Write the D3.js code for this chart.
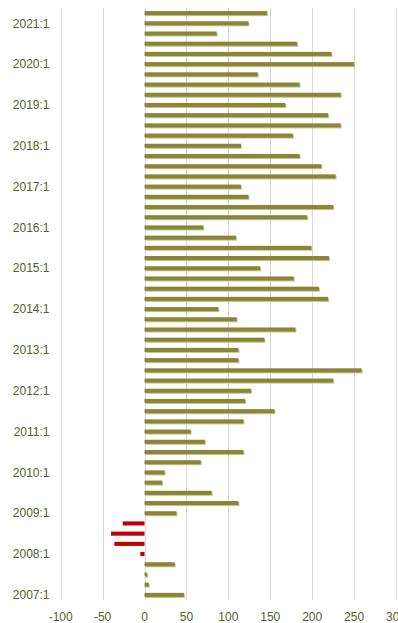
<!DOCTYPE html>
<html>
<head>
<meta charset="utf-8">
<script src="https://cdn.jsdelivr.net/npm/d3@7"></script>
<style>
  html, body { margin: 0; padding: 0; background: #fff; }
  svg { display: block; }
</style>
</head>
<body>
<svg id="chart" width="398" height="623"></svg>
<script>
// Quarters, oldest first
const quarters = [
  "2007:1","2007:2","2007:3","2007:4",
  "2008:1","2008:2","2008:3","2008:4",
  "2009:1","2009:2","2009:3","2009:4",
  "2010:1","2010:2","2010:3","2010:4",
  "2011:1","2011:2","2011:3","2011:4",
  "2012:1","2012:2","2012:3","2012:4",
  "2013:1","2013:2","2013:3","2013:4",
  "2014:1","2014:2","2014:3","2014:4",
  "2015:1","2015:2","2015:3","2015:4",
  "2016:1","2016:2","2016:3","2016:4",
  "2017:1","2017:2","2017:3","2017:4",
  "2018:1","2018:2","2018:3","2018:4",
  "2019:1","2019:2","2019:3","2019:4",
  "2020:1","2020:2","2020:3","2020:4",
  "2021:1","2021:2"
];
const values = [
  47, 5, 3, 36,
  -5, -36, -40, -26,
  38, 112, 80, 21,
  24, 67, 118, 72,
  55, 118, 155, 120,
  127, 225, 259, 112,
  112, 143, 180, 110,
  88, 219, 208, 178,
  138, 220, 199, 109,
  70, 194, 225, 124,
  115, 228, 211, 185,
  115, 177, 234, 219,
  168, 234, 185, 135,
  250, 223, 182, 86,
  124, 146
];
const xTicks = [-100, -50, 0, 50, 100, 150, 200, 250, 300];
const labelledQuarters = quarters.filter(q => q.endsWith(":1"));

const data = quarters.map((q, i) => ({ q, v: values[i] }));

const svg = d3.select("#chart");
const plotLeft = 60.7, plotRight = 396, plotTop = 8, plotBottom = 600;

const x = d3.scaleLinear().domain([-100, 300]).range([plotLeft, plotRight]);
const y = d3.scaleBand()
  .domain(quarters.slice().reverse())
  .range([plotTop, plotBottom])
  .paddingInner(0.6)
  .paddingOuter(0.3);

// Gridlines
svg.append("g")
  .selectAll("line")
  .data(xTicks)
  .join("line")
  .attr("x1", d => Math.round(x(d)) + 0.5)
  .attr("x2", d => Math.round(x(d)) + 0.5)
  .attr("y1", plotTop)
  .attr("y2", plotBottom)
  .attr("stroke", "#d9d9d9")
  .attr("stroke-width", 1);

// Bar shadows (positive bars)
svg.append("g")
  .selectAll("rect")
  .data(data.filter(d => d.v >= 0))
  .join("rect")
  .attr("x", d => x(Math.min(0, d.v)) + 1)
  .attr("y", d => y(d.q) + 1)
  .attr("width", d => Math.abs(x(d.v) - x(0)))
  .attr("height", y.bandwidth())
  .attr("fill", "#c9c594");

// Bars
svg.append("g")
  .selectAll("rect")
  .data(data)
  .join("rect")
  .attr("x", d => x(Math.min(0, d.v)))
  .attr("y", d => y(d.q))
  .attr("width", d => Math.abs(x(d.v) - x(0)))
  .attr("height", y.bandwidth())
  .attr("fill", d => d.v < 0 ? "#c00000" : "#8a8537");

const font = "'Liberation Sans', Arial, sans-serif";
const textColor = "#4f6228";

// Category labels
svg.append("g")
  .selectAll("text")
  .data(labelledQuarters)
  .join("text")
  .attr("x", 49.5)
  .attr("y", d => y(d) + y.bandwidth() / 2)
  .attr("dy", "0.35em")
  .attr("text-anchor", "end")
  .attr("font-family", font)
  .attr("font-size", 12)
  .attr("fill", textColor)
  .text(d => d);

// Value axis labels
svg.append("g")
  .selectAll("text")
  .data(xTicks)
  .join("text")
  .attr("x", d => x(d))
  .attr("y", 617)
  .attr("dy", "0.35em")
  .attr("text-anchor", "middle")
  .attr("font-family", font)
  .attr("font-size", 12)
  .attr("fill", textColor)
  .text(d => d);
</script>
</body>
</html>
